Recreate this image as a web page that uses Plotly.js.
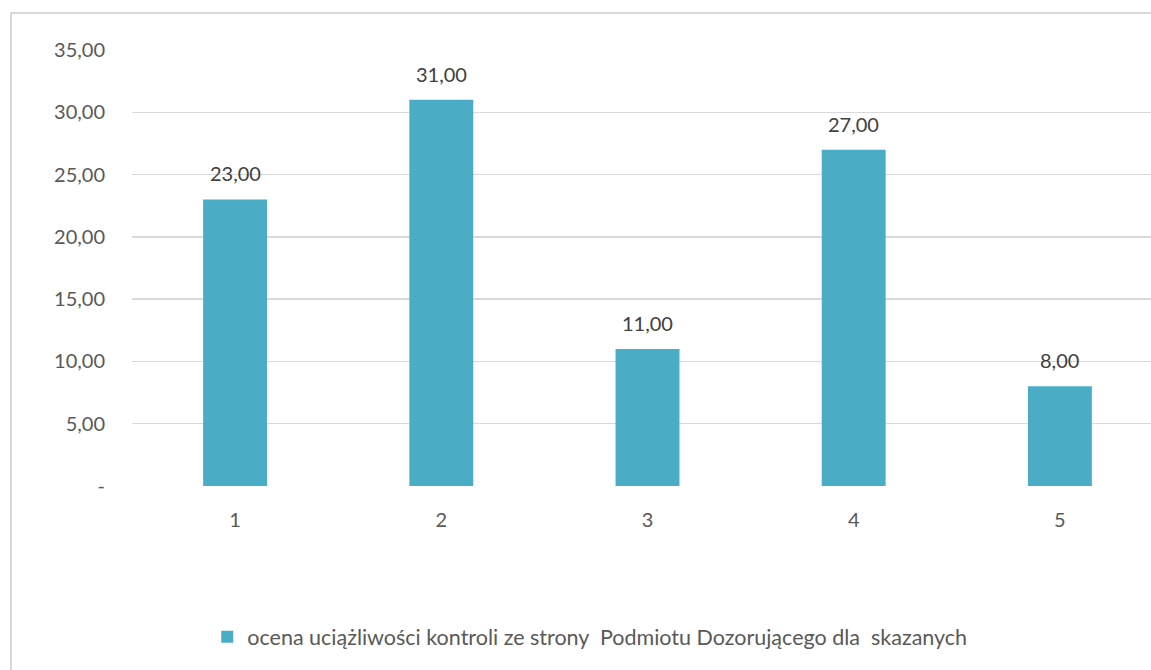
<!DOCTYPE html>
<html>
<head>
<meta charset="utf-8">
<script src="https://cdn.plot.ly/plotly-3.0.1.min.js"></script>
<style>
  html, body { margin: 0; padding: 0; background: #fff; overflow: hidden; }
  #wrap { position: relative; width: 1151px; height: 670px; overflow: hidden; }
  #chart { width: 1165px; height: 670px; }
  #frame { position: absolute; left: 10px; top: 12px; width: 1160px; height: 700px;
           border-left: 2px solid #d9d9d9; border-top: 2px solid #d9d9d9; pointer-events: none; }
</style>
</head>
<body>
<div id="wrap">
  <div id="chart"></div>
  <div id="frame"></div>
</div>
<script>
const categories = ["1", "2", "3", "4", "5"];
const values = [23, 31, 11, 27, 8];
const valueLabels = ["23,00", "31,00", "11,00", "27,00", "8,00"];
const seriesName = "ocena uciążliwości kontroli ze strony\u00a0 Podmiotu Dozorującego dla\u00a0 skazanych";
const yTickVals = [0, 5, 10, 15, 20, 25, 30, 35];
const yTickText = ["-", "5,00", "10,00", "15,00", "20,00", "25,00", "30,00", "35,00"];

const FONT = "Lato, 'Open Sans', sans-serif";
const TXT = "#595959";
const FS = 20;

const trace = {
  type: "bar",
  x: categories,
  y: values,
  name: seriesName,
  marker: { color: "#4bacc6" },
  hoverinfo: "none",
  showlegend: true
};

const annotations = categories.map((c, i) => ({
  x: i, y: values[i], xref: "x", yref: "y",
  text: valueLabels[i], showarrow: false,
  yanchor: "bottom", yshift: 12,
  font: { family: FONT, size: FS, color: "#404040" }
}));

const layout = {
  width: 1165, height: 670,
  margin: { l: 132, r: 2, t: 50, b: 184 },
  paper_bgcolor: "#fff", plot_bgcolor: "#fff",
  font: { family: FONT, size: FS, color: TXT },
  bargap: 0.69,
  xaxis: {
    type: "category",
    range: [-0.5, 4.5],
    showgrid: false, zeroline: false, showline: false,
    ticks: "", ticklabelstandoff: 20,
    tickfont: { family: FONT, size: FS, color: TXT }
  },
  yaxis: {
    range: [0, 35],
    tickvals: yTickVals, ticktext: yTickText,
    showgrid: true, gridcolor: "#d9d9d9", gridwidth: 1.5,
    zeroline: false, showline: false, ticks: "",
    ticklabelstandoff: 26,
    tickfont: { family: FONT, size: FS, color: TXT }
  },
  showlegend: true,
  legend: {
    orientation: "h", x: 0.444, xanchor: "center", y: -0.346, yanchor: "middle",
    font: { family: FONT, size: 21.5, color: TXT },
    itemwidth: 30
  },
  annotations: annotations
};

Plotly.newPlot("chart", [trace], layout, { staticPlot: true, displayModeBar: false });
</script>
</body>
</html>
